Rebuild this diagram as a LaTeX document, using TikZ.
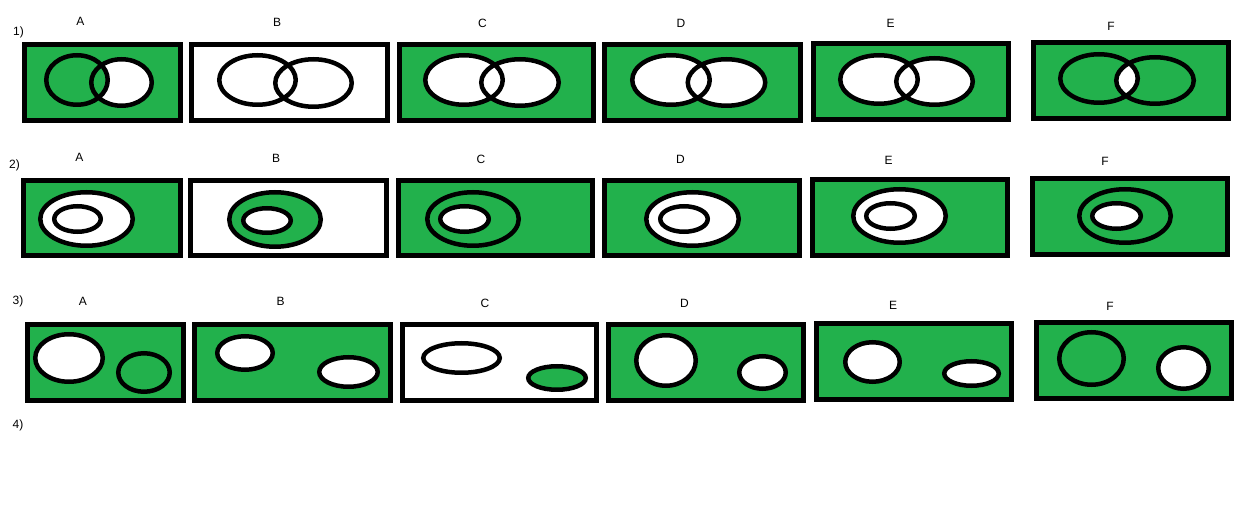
\documentclass[tikz,border=0pt]{standalone}
\usepackage{fontspec}
\setmainfont{Liberation Sans}
\definecolor{pgreen}{RGB}{34,177,76}
\tikzset{
  frame/.style={line width=5pt, draw=black},
  ring/.style={line width=4.5pt, draw=black},
  lbl/.style={inner sep=0pt, font=\fontsize{12}{14}\selectfont},
}
\newcommand\panel[5]{\filldraw[frame, fill=#1] ({#2+2.5},{#3+2.5}) rectangle ({#4-2.5},{#5-2.5});}
\begin{document}
\begin{tikzpicture}[x=1pt,y=-1pt]
\useasboundingbox (0,0) rectangle (1256,510);
\fill[white] (0,0) rectangle (1256,510);

% ---------- labels ----------
\node[lbl] (n1) at (18.5,32) {1)};
\node[lbl] (n2) at (14.5,165.5) {2)};
\node[lbl] (n3) at (18,301.5) {3)};
\node[lbl] (n4) at (18,425.5) {4)};

\node[lbl] (a1) at (80.5,21.5) {A};
\node[lbl] (b1) at (277,22.5) {B};
\node[lbl] (c1) at (482.5,23.5) {C};
\node[lbl] (d1) at (681,23.5) {D};
\node[lbl] (e1) at (890.5,23.5) {E};
\node[lbl] (f1) at (1111,26.5) {F};

\node[lbl] (a2) at (79.5,157.5) {A};
\node[lbl] (b2) at (276,158) {B};
\node[lbl] (c2) at (481,159.5) {C};
\node[lbl] (d2) at (680.5,159.5) {D};
\node[lbl] (e2) at (888.5,160.5) {E};
\node[lbl] (f2) at (1105,161.5) {F};

\node[lbl] (a3) at (83,301) {A};
\node[lbl] (b3) at (280.5,301.5) {B};
\node[lbl] (c3) at (485,303.5) {C};
\node[lbl] (d3) at (684.5,303.5) {D};
\node[lbl] (e3) at (893,305) {E};
\node[lbl] (f3) at (1110,306) {F};

% ---------- Row 1 ----------
% A
\panel{pgreen}{22}{42}{183}{123}
\fill[white] (121.5,82.5) ellipse (30.25pt and 23.25pt);
\fill[pgreen] (77,80) ellipse (30.75pt and 24.75pt);
\draw[ring] (77,80) ellipse (30.75pt and 24.75pt) (121.5,82.5) ellipse (30.25pt and 23.25pt);
% B
\panel{white}{189}{42}{390}{123}
\draw[ring] (257.5,80) ellipse (38.25pt and 24.75pt) (313.5,83) ellipse (38.25pt and 23.75pt);
% C
\panel{pgreen}{397}{42}{596}{123}
\fill[white] (464,80) ellipse (38.75pt and 24.75pt) (520,82.5) ellipse (38.75pt and 23.25pt);
\draw[ring] (464,80) ellipse (38.75pt and 24.75pt) (520,82.5) ellipse (38.75pt and 23.25pt);
% D
\panel{pgreen}{602}{42}{803}{123}
\fill[white] (671,80) ellipse (38.75pt and 24.75pt) (726.5,82.5) ellipse (38.75pt and 23.25pt);
\draw[ring] (671,80) ellipse (38.75pt and 24.75pt) (726.5,82.5) ellipse (38.75pt and 23.25pt);
% E
\panel{pgreen}{811}{41}{1011}{122}
\fill[white] (879,79.5) ellipse (38.75pt and 24.25pt) (934.5,81.5) ellipse (38.25pt and 23.25pt);
\draw[ring] (879,79.5) ellipse (38.75pt and 24.25pt) (934.5,81.5) ellipse (38.25pt and 23.25pt);
% F
\panel{pgreen}{1031}{40}{1231}{121}
\begin{scope}
  \clip (1099,78.5) ellipse (38.75pt and 24.25pt);
  \fill[white] (1155,80.5) ellipse (38.75pt and 23.25pt);
\end{scope}
\draw[ring] (1099,78.5) ellipse (38.75pt and 24.25pt) (1155,80.5) ellipse (38.75pt and 23.25pt);

% ---------- Row 2 ----------
% A
\panel{pgreen}{21}{178}{183}{258}
\filldraw[ring, fill=white] (86.5,219) ellipse (46.25pt and 26.75pt);
\filldraw[ring, fill=white] (77.5,219) ellipse (23.25pt and 12.75pt);
% B
\panel{white}{188}{178}{389}{258}
\filldraw[ring, fill=pgreen] (275,219.5) ellipse (45.75pt and 27.25pt);
\filldraw[ring, fill=white] (267,220.5) ellipse (23.75pt and 12.25pt);
% C
\panel{pgreen}{396}{178}{595}{258}
\draw[ring] (473,219) ellipse (45.75pt and 26.75pt);
\filldraw[ring, fill=white] (464.5,219) ellipse (24.25pt and 12.75pt);
% D
\panel{pgreen}{602}{178}{802}{258}
\filldraw[ring, fill=white] (692.5,219) ellipse (46.25pt and 26.75pt);
\filldraw[ring, fill=white] (684,219) ellipse (23.75pt and 12.75pt);
% E
\panel{pgreen}{810}{177}{1010}{258}
\filldraw[ring, fill=white] (899.5,216) ellipse (46.25pt and 26.75pt);
\filldraw[ring, fill=white] (890.5,216) ellipse (24.25pt and 12.75pt);
% F
\panel{pgreen}{1030}{176}{1230}{257}
\draw[ring] (1125,216) ellipse (45.75pt and 26.75pt);
\filldraw[ring, fill=white] (1116.5,216) ellipse (24.25pt and 12.75pt);

% ---------- Row 3 ----------
% A
\panel{pgreen}{25}{322}{186}{403}
\filldraw[ring, fill=white] (69,358) ellipse (33.75pt and 23.75pt);
\draw[ring] (144,372.5) ellipse (25.75pt and 19.25pt);
% B
\panel{pgreen}{192}{322}{393}{403}
\filldraw[ring, fill=white] (245,353) ellipse (27.75pt and 16.75pt);
\filldraw[ring, fill=white] (348.5,372) ellipse (29.25pt and 14.75pt);
% C
\panel{white}{400}{322}{599}{403}
\draw[ring] (461.5,358) ellipse (38.25pt and 14.75pt);
\filldraw[ring, fill=pgreen] (557,378) ellipse (28.75pt and 11.75pt);
% D
\panel{pgreen}{606}{322}{806}{403}
\filldraw[ring, fill=white] (666,360.5) ellipse (29.75pt and 25.25pt);
\filldraw[ring, fill=white] (762.5,372.5) ellipse (23.25pt and 16.25pt);
% E
\panel{pgreen}{814}{321}{1014}{402}
\filldraw[ring, fill=white] (872.5,362) ellipse (27.25pt and 19.75pt);
\filldraw[ring, fill=white] (971.5,373.5) ellipse (27.25pt and 12.25pt);
% F
\panel{pgreen}{1034}{320}{1234}{401}
\draw[ring] (1091.5,358.5) ellipse (32.25pt and 26.25pt);
\filldraw[ring, fill=white] (1183.5,368) ellipse (25.25pt and 20.75pt);
\end{tikzpicture}
\end{document}
